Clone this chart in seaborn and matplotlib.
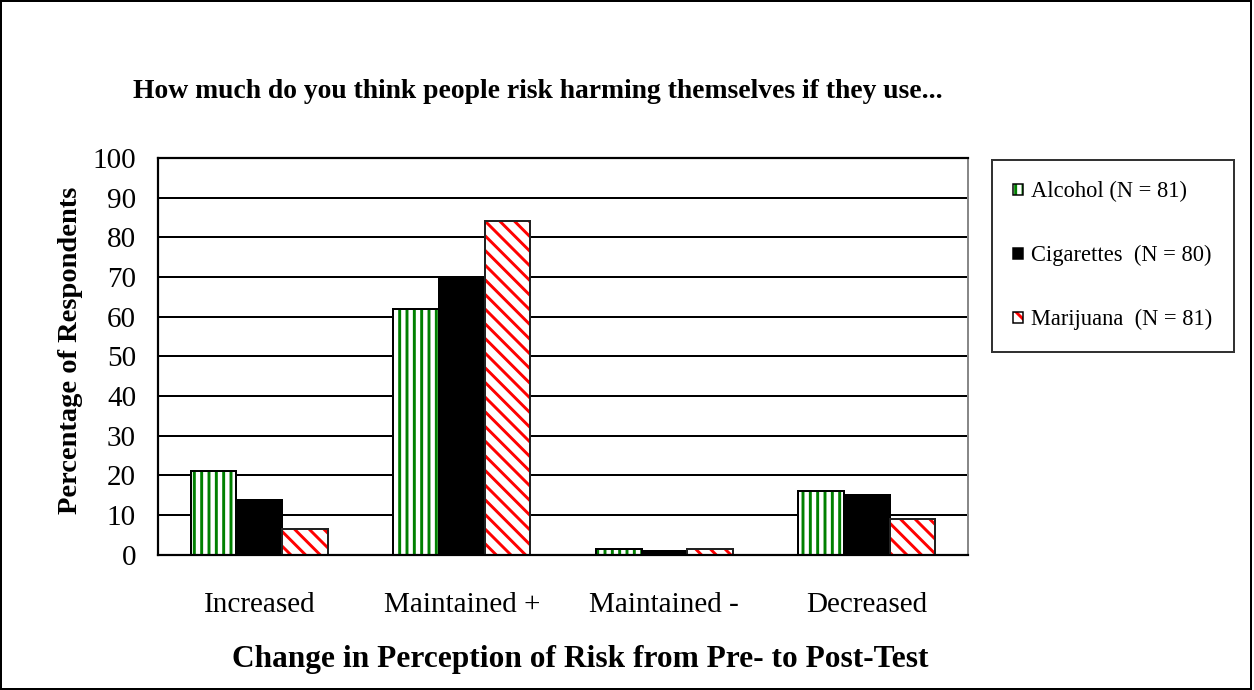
import matplotlib
matplotlib.use("Agg")
import matplotlib.pyplot as plt
import matplotlib.patches as mpatches
from matplotlib.legend_handler import HandlerTuple
import seaborn as sns
import pandas as pd

categories = ["Increased", "Maintained +", "Maintained -", "Decreased"]
series = ["Alcohol (N = 81)", "Cigarettes  (N = 80)", "Marijuana  (N = 81)"]
alcohol = [21, 62, 1.5, 16]
cigarettes = [13.7, 70, 0.9, 15]
marijuana = [6.5, 84, 1.5, 9]
yticks = list(range(0, 101, 10))
title = "How much do you think people risk harming themselves if they use..."
xlabel = "Change in Perception of Risk from Pre- to Post-Test"
ylabel = "Percentage of Respondents"

rows = []
for name, vals in zip(series, [alcohol, cigarettes, marijuana]):
    for c, v in zip(categories, vals):
        rows.append({"cat": c, "series": name, "val": v})
df = pd.DataFrame(rows)

DPI = 88
S = 100.0 / DPI          # converts "points at 100 dpi" to points at DPI


def px(p):
    return p * 72.0 / DPI


sns.set_style("white")
plt.rcParams["font.family"] = ["Liberation Serif", "DejaVu Serif"]
for k in ["text.color", "axes.labelcolor", "xtick.color", "ytick.color"]:
    plt.rcParams[k] = "black"
plt.rcParams["hatch.linewidth"] = 2.4

fig = plt.figure(figsize=(1254 / DPI, 690 / DPI), dpi=DPI)
ax = fig.add_axes([0.126, 0.196, 0.646, 0.575])

sns.barplot(data=df, x="cat", y="val", hue="series", order=categories,
            hue_order=series, palette=["white", "black", "white"],
            width=0.675, ax=ax, legend=False, saturation=1)

styles = [
    dict(face="white", hatch="||", hcol="#008000", edge="black"),
    dict(face="black", hatch="", hcol="black", edge="black"),
    dict(face="white", hatch="\\\\", hcol="#ff0000", edge="#222222"),
]
for cont, st in zip(ax.containers, styles):
    for p in cont:
        p.set_facecolor(st["face"])
        p.set_hatch(st["hatch"])
        p.set_edgecolor(st["hcol"])
        p.set_linewidth(0)
        outline = mpatches.Rectangle(p.get_xy(), p.get_width(), p.get_height(),
                                     fill=False, edgecolor=st["edge"], linewidth=px(2),
                                     zorder=p.get_zorder() + 0.1)
        ax.add_patch(outline)

ax.set_ylim(0, 100)
ax.set_xlim(-0.5, 3.5)
ax.set_yticks(yticks)
ax.set_yticklabels([str(t) for t in yticks], fontsize=21 * S)
ax.yaxis.grid(True, color="black", linewidth=px(2))
ax.set_axisbelow(True)

ax.set_xticks(range(len(categories)))
ax.set_xticklabels(categories, fontsize=21 * S)
ax.tick_params(axis="x", length=0, pad=px(37))
ax.set_xticks([0.5, 1.5, 2.5], minor=True)
ax.tick_params(axis="x", which="minor", length=px(8), width=px(2), direction="out", color="black")
ax.tick_params(axis="y", length=px(6), width=px(2), direction="out", color="black", pad=px(16))

for s in ["left", "bottom", "top"]:
    ax.spines[s].set_color("black")
    ax.spines[s].set_linewidth(px(2.2))
ax.spines["right"].set_color("#888888")
ax.spines["right"].set_linewidth(px(2))

ax.set_xlabel(xlabel, fontsize=22.6 * S, fontweight="bold", labelpad=px(28))
ax.xaxis.set_label_coords(0.521, -0.2275)
ax.set_ylabel(ylabel, fontsize=20.5 * S, fontweight="bold", labelpad=px(9))
ax.yaxis.label.set_y(0.516)
fig.text(133 / 1254, 1 - 91 / 690, title, fontsize=19.9 * S, fontweight="bold",
         ha="left", va="center")

handles = []
for st in styles:
    hatch_part = mpatches.Patch(facecolor=st["face"], hatch=st["hatch"],
                                edgecolor=st["hcol"], linewidth=0)
    outline_part = mpatches.Patch(facecolor="none", edgecolor="black", linewidth=px(1.5))
    handles.append((hatch_part, outline_part))
leg = fig.legend(handles, series, loc="upper left", bbox_to_anchor=(992 / 1254, 1 - 160 / 690),
                 handler_map={tuple: HandlerTuple(ndivide=1, pad=0)},
                 fontsize=16.2 * S, frameon=True, fancybox=False, edgecolor="black",
                 handlelength=0.42, handleheight=0.4, handletextpad=0.38,
                 labelspacing=1.9, borderpad=0.95, borderaxespad=0)
leg.get_frame().set_linewidth(px(2))

fig.patches.append(mpatches.Rectangle((0.001, 0.002), 0.997, 0.996, transform=fig.transFigure,
                                      fill=False, edgecolor="black", linewidth=px(2)))

fig.savefig("out.png", dpi=DPI, facecolor="white")
